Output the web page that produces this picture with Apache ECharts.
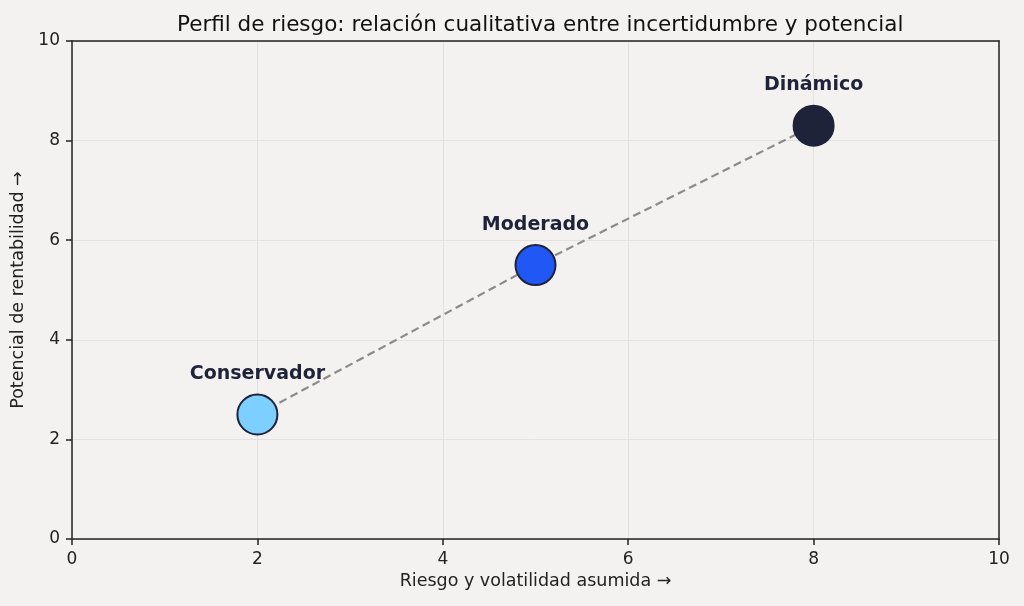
<!DOCTYPE html>
<html>
<head>
<meta charset="utf-8">
<script src="https://cdn.jsdelivr.net/npm/echarts@6/dist/echarts.min.js"></script>
<style>
  html, body { margin: 0; padding: 0; background: #f3f2f0; }
  #chart { width: 1024px; height: 606px; }
</style>
</head>
<body>
<div id="chart"></div>
<script>
// perfiles de riesgo
var perfiles = ['Conservador', 'Moderado', 'Dinámico'];
var riesgo = [2, 5, 8];
var rentabilidad = [2.5, 5.5, 8.3];
var colores = ['#7dcfff', '#2157f5', '#1f2339'];

var font = 'DejaVu Sans';
var puntos = [];
for (var i = 0; i < perfiles.length; i++) {
  puntos.push({
    name: perfiles[i],
    value: [riesgo[i], rentabilidad[i]],
    itemStyle: { color: colores[i] }
  });
}
var linea = [];
for (var j = 0; j < riesgo.length; j++) {
  linea.push([riesgo[j], rentabilidad[j]]);
}

var axisComun = {
  min: 0, max: 10, interval: 2,
  axisLine: { show: true, lineStyle: { color: '#222', width: 1.5 } },
  axisTick: { show: true, length: 6, lineStyle: { color: '#222', width: 1.5 } },
  axisLabel: { color: '#222', fontSize: 17, fontFamily: font, margin: 12 },
  splitLine: { show: true, lineStyle: { color: '#e3e2e0', width: 1 } },
  nameLocation: 'middle',
  nameTextStyle: { color: '#222', fontSize: 17.5, fontFamily: font }
};
// ejes espejo para cerrar el marco
var marco = {
  min: 0, max: 10,
  axisLine: { show: true, onZero: false, lineStyle: { color: '#222', width: 1.5 } },
  axisTick: { show: false }, axisLabel: { show: false }, splitLine: { show: false }
};

var myChart = echarts.init(document.getElementById('chart'));
var option = {
  backgroundColor: '#f3f2f0',
  animation: false,
  title: {
    text: 'Perfil de riesgo: relación cualitativa entre incertidumbre y potencial',
    left: 172, top: 9,
    textStyle: { color: '#111', fontSize: 21.5, fontWeight: 'normal', fontFamily: font }
  },
  grid: { left: 72, right: 25, top: 41, bottom: 67 },
  xAxis: [
    Object.assign({}, axisComun, {
      type: 'value',
      name: 'Riesgo y volatilidad asumida →',
      nameGap: 33
    }),
    Object.assign({}, marco, { type: 'value', position: 'top' })
  ],
  yAxis: [
    Object.assign({}, axisComun, {
      type: 'value',
      name: 'Potencial de rentabilidad →',
      nameGap: 40
    }),
    Object.assign({}, marco, { type: 'value', position: 'right' })
  ],
  series: [
    {
      type: 'line',
      data: linea,
      symbol: 'none',
      z: 1,
      lineStyle: { color: '#8b8b88', width: 2.2, type: [8, 4.5] }
    },
    {
      type: 'scatter',
      data: puntos,
      symbolSize: 40,
      z: 3,
      itemStyle: { borderColor: '#1f2339', borderWidth: 2, opacity: 1 },
      label: {
        show: true,
        position: 'top',
        distance: 10,
        formatter: '{b}',
        color: '#1f2339',
        fontSize: 19,
        fontWeight: 'bold',
        fontFamily: font
      }
    }
  ]
};
myChart.setOption(option, true);
</script>
</body>
</html>
